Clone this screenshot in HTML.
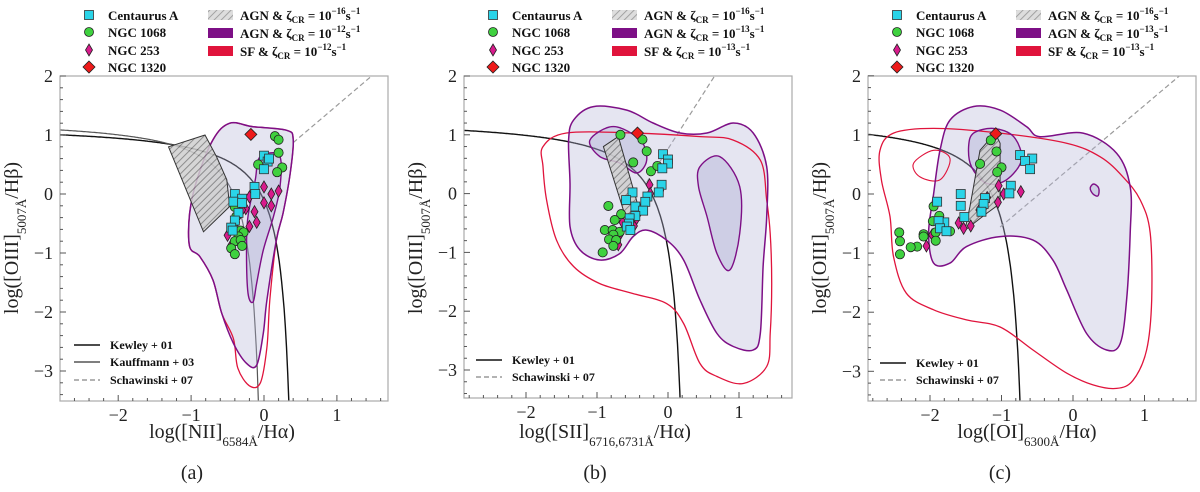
<!DOCTYPE html>
<html><head><meta charset="utf-8">
<style>
html,body{margin:0;padding:0;background:#fff;width:1200px;height:492px;overflow:hidden;}
svg{display:block;font-family:"Liberation Serif",serif;}
text{font-family:"Liberation Serif",serif;}
.leg{font-weight:bold;font-size:13px;fill:#111;font-family:"Liberation Serif",serif;}
.tick{font-size:18px;fill:#222;font-family:"Liberation Serif",serif;}
.axl{font-size:20px;fill:#222;font-family:"Liberation Serif",serif;}
</style></head>
<body>
<svg id="fig" width="1200" height="492" viewBox="0 0 1200 492" xmlns="http://www.w3.org/2000/svg"></svg>
<script>
// ---------- DATA ----------
const xTicks = [-2,-1,0,1];
const yTicks = [2,1,0,-1,-2,-3];
const panelIds = ['a','b','c'];
const xLabelMain = ['[NII]','[SII]','[OI]'];
const xLabelSub = ['6584Å','6716,6731Å','6300Å'];
const zetaLabels = ['12','13','13'];

// Panel a
const cenA_a = [[-0.40,0.0],[-0.30,-0.08],[-0.42,-0.13],[-0.30,-0.15],[-0.35,-0.32],[-0.40,-0.45],[-0.45,-0.57],[-0.43,-0.62],[-0.13,0.12],[-0.12,0.0],[0.0,0.65],[0.05,0.55],[0.07,0.6],[0.0,0.42]];
const n1068_a = [[0.15,0.98],[0.2,0.92],[0.2,0.7],[-0.08,0.5],[0.25,0.45],[0.18,0.37],[-0.4,-0.22],[-0.38,-0.38],[-0.4,-0.48],[-0.32,-0.62],[-0.28,-0.65],[-0.35,-0.72],[-0.4,-0.8],[-0.32,-0.78],[-0.3,-0.88],[-0.45,-0.92],[-0.4,-1.02]];
const n253_a = [[0.0,0.12],[0.1,0.0],[0.2,0.05],[-0.2,-0.05],[0.0,-0.15],[-0.25,-0.25],[-0.13,-0.3],[-0.2,-0.55],[-0.1,-0.48],[-0.4,-0.5],[-0.5,-0.7],[-0.45,-0.87],[0.1,-0.2],[-0.3,-0.27]];
const n1320_a = [[-0.18,1.01]];
const agnOuter_a = [[-0.47,1.20],[-0.15,1.14],[0.31,1.08],[0.40,0.92],[0.36,0.35],[0.26,-0.33],[0.17,-0.78],[0.04,-1.80],[-0.01,-2.36],[-0.10,-2.90],[-0.24,-2.87],[-0.42,-2.53],[-0.58,-2.02],[-0.70,-1.46],[-0.88,-1.06],[-1.02,-0.89],[-1.02,-0.33],[-0.92,0.24],[-0.70,0.92]];
const sfOuter_a = [[-0.47,1.20],[-0.15,1.14],[0.31,1.08],[0.40,0.92],[0.36,0.35],[0.26,-0.33],[0.17,-0.78],[0.08,-1.8],[0.04,-2.6],[-0.05,-3.2],[-0.2,-3.25],[-0.36,-2.95],[-0.42,-2.45],[-0.58,-2.02],[-0.70,-1.46],[-0.88,-1.06],[-1.02,-0.89],[-1.02,-0.33],[-0.92,0.24],[-0.70,0.92]];
const agnInner_a = [[0.04,0.69],[0.22,0.63],[0.22,0.12],[0.13,-0.38],[-0.01,-0.95],[-0.10,-1.51],[-0.15,-1.83],[-0.22,-1.68],[-0.24,-0.95],[-0.22,-0.38],[-0.12,0.24],[-0.08,0.58]];
const hatch_a = [[-1.31,0.80],[-0.81,1.00],[-0.65,0.63],[-0.51,0.24],[-0.47,-0.21],[-0.83,-0.64]];

// Panel b
const cenA_b = [[-0.07,0.67],[0.0,0.58],[0.0,0.51],[-0.08,0.43],[-0.09,0.15],[-0.13,0.02],[-0.50,0.02],[-0.59,-0.11],[-0.46,-0.22],[-0.29,-0.05],[-0.32,-0.14],[-0.35,-0.29],[-0.46,-0.38],[-0.54,-0.42],[-0.55,-0.51],[-0.58,-0.56],[-0.53,-0.62]];
const n1068_b = [[-0.67,1.0],[-0.36,0.92],[-0.30,0.72],[-0.49,0.53],[-0.24,0.38],[-0.15,0.47],[-0.84,-0.21],[-0.66,-0.35],[-0.75,-0.45],[-0.89,-0.62],[-0.78,-0.62],[-0.68,-0.65],[-0.77,-0.70],[-0.83,-0.78],[-0.73,-0.79],[-0.77,-0.89],[-0.92,-1.0]];
const n253_b = [[-0.26,0.15],[-0.11,0.05],[-0.25,0.0],[-0.28,-0.08],[-0.31,-0.14],[-0.35,-0.21],[-0.39,-0.28],[-0.43,-0.36],[-0.46,-0.46],[-0.48,-0.55],[-0.64,-0.49],[-0.67,-0.68],[-0.70,-0.87]];
const n1320_b = [[-0.43,1.03]];
const agnOuter_b = [[-1.33,1.25],[-1.05,1.48],[-0.58,1.42],[-0.21,1.20],[0.17,1.03],[0.55,1.03],[0.92,1.20],[1.20,1.03],[1.39,0.46],[1.39,-0.39],[1.34,-1.24],[1.30,-2.38],[1.20,-2.66],[0.92,-2.60],[0.69,-2.38],[0.45,-1.81],[0.22,-1.13],[-0.02,-0.79],[-0.30,-0.62],[-0.49,-0.73],[-0.68,-1.02],[-0.96,-1.13],[-1.24,-0.96],[-1.38,-0.56],[-1.38,0.18],[-1.40,0.91]];
const sfOuter_b = [[-1.76,0.80],[-1.43,1.03],[-0.49,1.03],[0.45,0.97],[0.92,0.91],[1.30,0.57],[1.39,-0.11],[1.44,-0.68],[1.46,-1.53],[1.44,-2.38],[1.39,-2.94],[1.06,-3.23],[0.69,-3.11],[0.45,-2.89],[0.22,-2.21],[-0.02,-1.87],[-0.49,-1.70],[-0.96,-1.53],[-1.33,-1.24],[-1.57,-0.79],[-1.71,-0.11],[-1.76,0.46]];
const agnInner_b = [[-1.10,0.91],[-0.77,1.14],[-0.39,0.91],[-0.30,0.57],[-0.44,0.35],[-0.68,0.52],[-0.96,0.63]];
const agnInner2_b = [[0.45,0.46],[0.73,0.63],[1.01,0.12],[1.01,-0.68],[0.87,-1.30],[0.69,-1.02],[0.55,-0.39],[0.43,0.12]];
const hatch_b = [[-0.91,0.80],[-0.70,0.97],[-0.39,-0.34],[-0.54,-0.62]];

// Panel c
const cenA_c = [[-0.74,0.66],[-0.57,0.60],[-0.67,0.56],[-0.60,0.42],[-0.87,0.14],[-0.89,0.01],[-1.57,0.0],[-1.57,-0.20],[-1.52,-0.39],[-1.90,-0.13],[-1.80,-0.48],[-1.88,-0.46],[-1.86,-0.58],[-1.77,-0.63],[-1.23,-0.07],[-1.25,-0.17],[-1.28,-0.30]];
const n1068_c = [[-1.15,0.91],[-1.07,0.72],[-1.30,0.51],[-1.0,0.45],[-1.06,0.37],[-1.95,-0.21],[-1.87,-0.37],[-1.96,-0.46],[-1.92,-0.65],[-1.72,-0.63],[-1.92,-0.79],[-2.09,-0.68],[-2.09,-0.72],[-2.18,-0.89],[-2.27,-0.90],[-2.43,-0.65],[-2.42,-0.80],[-2.42,-1.02]];
const n253_c = [[-1.04,0.14],[-0.97,0.0],[-0.73,0.04],[-1.05,-0.14],[-1.20,-0.06],[-1.24,-0.21],[-1.31,-0.27],[-1.60,-0.49],[-1.53,-0.58],[-1.43,-0.54],[-1.85,-0.51],[-1.97,-0.69],[-2.05,-0.88]];
const n1320_c = [[-1.08,1.02]];
const agnOuter_c = [[-1.72,1.25],[-1.39,1.48],[-1.02,1.42],[-0.65,1.14],[-0.46,0.97],[0.14,1.03],[0.61,0.69],[0.80,0.12],[0.80,-0.66],[0.75,-1.79],[0.66,-2.53],[0.47,-2.64],[0.19,-2.36],[-0.09,-1.62],[-0.28,-1.12],[-0.56,-0.78],[-1.02,-0.72],[-1.49,-0.89],[-1.72,-1.17],[-1.95,-1.17],[-2.02,-0.66],[-1.95,0.0],[-1.86,0.74]];
const sfOuter_c = [[-2.70,0.74],[-2.51,1.03],[-1.95,1.11],[-1.02,1.03],[-0.09,0.86],[0.38,0.63],[0.70,0.29],[0.94,-0.10],[1.08,-0.66],[1.10,-1.79],[1.03,-2.64],[0.84,-3.15],[0.61,-3.29],[0.28,-3.23],[-0.09,-3.03],[-0.56,-2.64],[-1.02,-2.25],[-1.49,-2.13],[-1.95,-1.96],[-2.33,-1.68],[-2.51,-1.06],[-2.56,-0.38],[-2.68,0.24]];
const sfInner_c = [[-2.23,0.52],[-1.95,0.74],[-1.72,0.60],[-1.86,0.24],[-2.14,0.29]];
const agnInner_c = [[-1.39,1.03],[-1.11,1.11],[-0.83,0.97],[-0.72,0.58],[-0.93,0.24],[-1.21,0.18],[-1.42,0.46],[-1.46,0.80]];
const agnInner2_c = [[0.29,0.17],[0.36,0.1],[0.35,-0.03],[0.28,0.0],[0.24,0.1]];
const hatch_c = [[-1.30,0.74],[-1.09,1.03],[-1.02,0.86],[-1.02,-0.16],[-1.21,-0.33],[-1.51,-0.61],[-1.44,-0.21]];

// ---------- GEOMETRY ----------
const P = [
 {off:0,   x0:264,  kx:72.9, y0:194,   ky:59,   L:60,  R:388,  T:76, B:401},
 {off:400, x0:668,  kx:71,   y0:193.6, ky:58.8, L:464, R:792,  T:76, B:398},
 {off:800, x0:1073, kx:71.5, y0:194,   ky:59.1, L:868, R:1196, T:76, B:401}
];
const NS='http://www.w3.org/2000/svg';
const svg=document.getElementById('fig');
function mk(tag,attrs,parent){const e=document.createElementNS(NS,tag);for(const k in attrs)e.setAttribute(k,attrs[k]);(parent||svg).appendChild(e);return e;}

const defs=mk('defs',{});
const pat=mk('pattern',{id:'hatch',patternUnits:'userSpaceOnUse',width:5,height:5,patternTransform:'rotate(45)'},defs);
mk('rect',{x:0,y:0,width:5,height:5,fill:'#cfcfcf'},pat);
mk('line',{x1:0,y1:0,x2:0,y2:5,stroke:'#7a7a7a','stroke-width':2},pat);
P.forEach((p,i)=>{const c=mk('clipPath',{id:'clip'+i},defs);mk('rect',{x:p.L,y:p.T,width:p.R-p.L,height:p.B-p.T},c);});

function sx(p,v){return p.x0+v*p.kx;}
function sy(p,v){return p.y0-v*p.ky;}
function smooth(p,pts){
  const q=pts.map(d=>[sx(p,d[0]),sy(p,d[1])]);const n=q.length;let s='M'+q[0][0].toFixed(1)+','+q[0][1].toFixed(1);
  for(let i=0;i<n;i++){const p0=q[(i-1+n)%n],p1=q[i],p2=q[(i+1)%n],p3=q[(i+2)%n];
    const c1=[p1[0]+(p2[0]-p0[0])/6,p1[1]+(p2[1]-p0[1])/6],c2=[p2[0]-(p3[0]-p1[0])/6,p2[1]-(p3[1]-p1[1])/6];
    s+='C'+c1[0].toFixed(1)+','+c1[1].toFixed(1)+' '+c2[0].toFixed(1)+','+c2[1].toFixed(1)+' '+p2[0].toFixed(1)+','+p2[1].toFixed(1);}
  return s+'Z';
}
function poly(p,pts){return 'M'+pts.map(d=>sx(p,d[0]).toFixed(1)+','+sy(p,d[1]).toFixed(1)).join('L')+'Z';}
function curve(p,f,a,b){let s='';const n=200;for(let i=0;i<=n;i++){const x=a+(b-a)*i/n;let y=f(x);if(y<-6)y=-6;s+=(i?'L':'M')+sx(p,x).toFixed(1)+','+sy(p,y).toFixed(1);}return s;}

const kewley=[x=>0.61/(x-0.47)+1.19, x=>0.72/(x-0.32)+1.30, x=>0.73/(x+0.59)+1.33];
const kewMax=[0.46,0.31,-0.60];
const schaw=[[0.40,x=>1.05*x+0.45],[-0.30,x=>1.89*x+0.76],[-1.02,x=>1.02*x+0.48]];
const sets=[
 {cen:cenA_a,n68:n1068_a,n53:n253_a,n20:n1320_a,ao:agnOuter_a,so:sfOuter_a,ai:[agnInner_a],si:[],h:hatch_a},
 {cen:cenA_b,n68:n1068_b,n53:n253_b,n20:n1320_b,ao:agnOuter_b,so:sfOuter_b,ai:[agnInner_b,agnInner2_b],si:[],h:hatch_b},
 {cen:cenA_c,n68:n1068_c,n53:n253_c,n20:n1320_c,ao:agnOuter_c,so:sfOuter_c,ai:[agnInner_c,agnInner2_c],si:[sfInner_c],h:hatch_c}
];

P.forEach((p,i)=>{
  const d=sets[i];
  const g=mk('g',{});
  
  
  const cg=mk('g',{'clip-path':'url(#clip'+i+')'},g);
  const kl=mk('path',{d:curve(p,kewley[i],-2.9,kewMax[i]),fill:'none',stroke:'#111','stroke-width':1.4},cg);
  
  
  if(i===0){
    const kf=mk('path',{d:curve(p,x=>0.61/(x-0.05)+1.3,-2.9,0.04),fill:'none',stroke:'#555','stroke-width':1.2},cg);
    
    
  }
  const sc=mk('path',{d:curve(p,schaw[i][1],schaw[i][0],2.2),fill:'none',stroke:'#9a9a9a','stroke-width':1.2,'stroke-dasharray':'5,3'},cg);
  
  
  const f1=mk('path',{d:smooth(p,d.ao),fill:'#b4b4d8','fill-opacity':0.35,stroke:'none'},cg);
  
  
  d.ai.forEach(c=>{mk('path',{d:smooth(p,c),fill:'#8c8cc4','fill-opacity':0.25,stroke:'none'},cg);});
  const sf=mk('path',{d:smooth(p,d.so),fill:'none',stroke:'#e0143c','stroke-width':1.3},cg);
  
  
  d.si.forEach(c=>{const e=mk('path',{d:smooth(p,c),fill:'none',stroke:'#e0143c','stroke-width':1.1},cg);});
  const ao=mk('path',{d:smooth(p,d.ao),fill:'none',stroke:'#7d0f86','stroke-width':1.5},cg);
  
  
  d.ai.forEach(c=>{const e=mk('path',{d:smooth(p,c),fill:'none',stroke:'#7d0f86','stroke-width':1.4},cg);});
  const h=mk('path',{d:poly(p,d.h),fill:'url(#hatch)','fill-opacity':0.85,stroke:'#333','stroke-width':1},cg);
  
  
  d.n53.forEach(v=>{const x=sx(p,v[0]),y=sy(p,v[1]);const e=mk('path',{d:`M${x},${y-6}L${x+3.5},${y}L${x},${y+6}L${x-3.5},${y}Z`,fill:'#d81b8c',stroke:'#222','stroke-width':0.8},cg);});
  d.n68.forEach(v=>{const e=mk('circle',{cx:sx(p,v[0]),cy:sy(p,v[1]),r:4.6,fill:'#3fd13f',stroke:'#222','stroke-width':0.8},cg);});
  d.cen.forEach(v=>{const e=mk('rect',{x:sx(p,v[0])-4.5,y:sy(p,v[1])-4.5,width:9,height:9,fill:'#2ad4e8',stroke:'#333','stroke-width':0.8},cg);});
  d.n20.forEach(v=>{const x=sx(p,v[0]),y=sy(p,v[1]);const e=mk('path',{d:`M${x},${y-6}L${x+6},${y}L${x},${y+6}L${x-6},${y}Z`,fill:'#ee1a1a',stroke:'#222','stroke-width':0.8},cg);});
  const fr=mk('rect',{x:p.L,y:p.T,width:p.R-p.L,height:p.B-p.T,fill:'none',stroke:'#aaa','stroke-width':1.2},g);
  
  
  for(let t=-2.8;t<=1.7;t+=0.2){const v=Math.round(t*10)/10;const X=sx(p,v);if(X<p.L||X>p.R)continue;const maj=Math.abs(v-Math.round(v))<0.01;mk('line',{x1:X,y1:p.B,x2:X,y2:p.B-(maj?6:3),stroke:'#555','stroke-width':1},g);}
  for(let t=-3.4;t<=2.01;t+=0.2){const v=Math.round(t*10)/10;const Y=sy(p,v);if(Y<p.T-0.5||Y>p.B)continue;const maj=Math.abs(v-Math.round(v))<0.01;mk('line',{x1:p.L,y1:Y,x2:p.L+(maj?6:3),y2:Y,stroke:'#555','stroke-width':1},g);}
  xTicks.forEach(v=>{const e=mk('text',{x:sx(p,v),y:p.B+20,'text-anchor':'middle',class:'tick'},g);e.textContent=(v<0?'−':'')+Math.abs(v);});
  yTicks.forEach(v=>{const e=mk('text',{x:p.L-7,y:sy(p,v)+6,'text-anchor':'end',class:'tick'},g);e.textContent=(v<0?'−':'')+Math.abs(v);});
  const xl=mk('text',{x:p.off+(i===1?205:i===2?227:222),y:438,'text-anchor':'middle',class:'axl'},g);
  
  
  xl.innerHTML='log('+xLabelMain[i]+'<tspan font-size="13" dy="8">'+xLabelSub[i]+'</tspan><tspan dy="-8">/Hα)</tspan>';
  const ylx=p.L-42;
  const yl=mk('text',{x:0,y:0,'text-anchor':'middle',class:'axl',transform:`translate(${ylx},238) rotate(-90)`},g);
  
  
  yl.innerHTML='log([OIII]<tspan font-size="13" dy="8">5007Å</tspan><tspan dy="-8">/Hβ)</tspan>';
  const cap=mk('text',{x:p.off+(i===0?192:i===1?195:200),y:479,'text-anchor':'middle',class:'axl'},g);
  cap.textContent='('+panelIds[i]+')';
  
  
  const mx=p.off+(i===0?89:i===1?93:97), tx=mx+19;
  const names=['Centaurus A','NGC 1068','NGC 253','NGC 1320'];
  const ly=[15,32,50,67];
  const lg=mk('g',{},g);
  
  
  mk('rect',{x:mx-4.5,y:ly[0]-4.5,width:9,height:9,fill:'#2ad4e8',stroke:'#333','stroke-width':0.8},lg);
  mk('circle',{cx:mx,cy:ly[1],r:4.5,fill:'#3fd13f',stroke:'#222','stroke-width':0.8},lg);
  mk('path',{d:`M${mx},${ly[2]-6}L${mx+3.5},${ly[2]}L${mx},${ly[2]+6}L${mx-3.5},${ly[2]}Z`,fill:'#d81b8c',stroke:'#222','stroke-width':0.8},lg);
  mk('path',{d:`M${mx},${ly[3]-6}L${mx+6},${ly[3]}L${mx},${ly[3]+6}L${mx-6},${ly[3]}Z`,fill:'#ee1a1a',stroke:'#222','stroke-width':0.8},lg);
  names.forEach((n,k)=>{const e=mk('text',{x:tx,y:ly[k]+5,class:'leg'},lg);e.textContent=n;});
  const swx=i===0?208:i===1?612:1016;
  const lg2=mk('g',{},g);
  
  
  const ry=[15,33,51];
  mk('rect',{x:swx,y:ry[0]-5,width:25,height:10,fill:'url(#hatch)','fill-opacity':0.7},lg2);
  mk('rect',{x:swx,y:ry[1]-5,width:25,height:10,fill:'#7d0f86'},lg2);
  mk('rect',{x:swx,y:ry[2]-5,width:25,height:10,fill:'#e0143c'},lg2);
  const labs=[['AGN','16'],['AGN',zetaLabels[i]],['SF',zetaLabels[i]]];
  labs.forEach((l,k)=>{const e=mk('text',{x:swx+32,y:ry[k]+5,class:'leg'},lg2);
    e.innerHTML=l[0]+' &amp; ζ<tspan font-size="9" dy="3">CR</tspan><tspan dy="-3"> = 10</tspan><tspan font-size="9" dy="-6">−'+l[1]+'</tspan><tspan dy="6">s</tspan><tspan font-size="9" dy="-6">−1</tspan>';
    });
  const lx=p.L+(i===0?14:12);
  const lines=i===0?[['Kewley + 01','#111',''],['Kauffmann + 03','#555',''],['Schawinski + 07','#9a9a9a','5,3']]:[['Kewley + 01','#111',''],['Schawinski + 07','#9a9a9a','5,3']];
  const lyy=i===0?[345,362,380]:(i===1?[360,377]:[363,380]);
  const lg3=mk('g',{},g);
  
  
  lines.forEach((l,k)=>{mk('line',{x1:lx,y1:lyy[k],x2:lx+26,y2:lyy[k],stroke:l[1],'stroke-width':1.4,'stroke-dasharray':l[2]},lg3);
    const e=mk('text',{x:lx+36,y:lyy[k]+4,class:'leg',style:'font-size:12px'},lg3);e.textContent=l[0];});
});
</script>
</body></html>
